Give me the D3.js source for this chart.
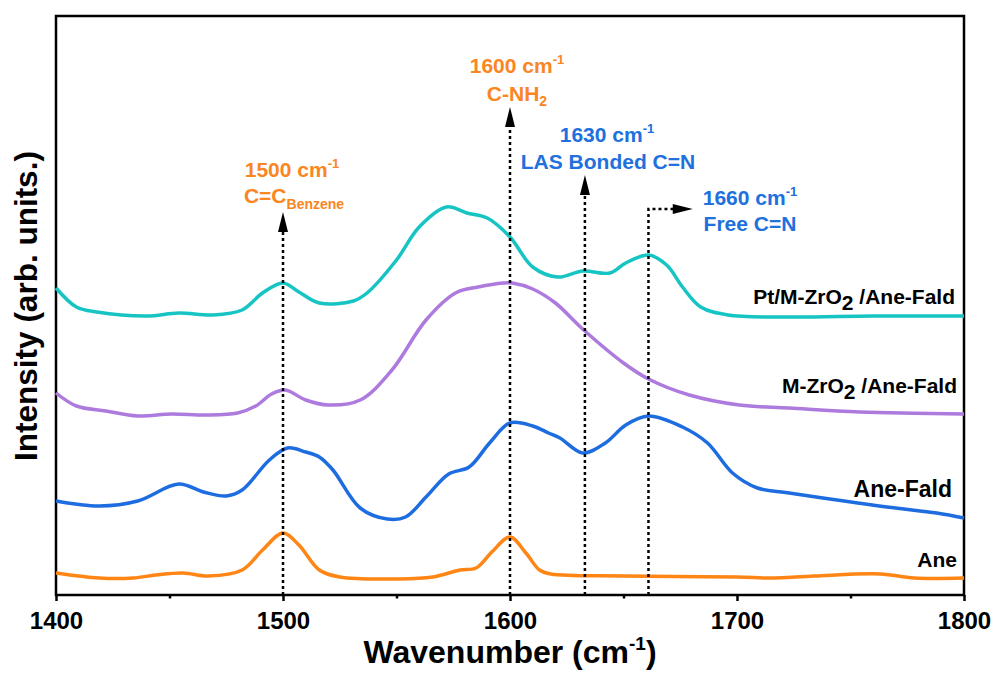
<!DOCTYPE html>
<html>
<head>
<meta charset="utf-8">
<script src="https://cdn.jsdelivr.net/npm/d3@7"></script>
<style>
  body { margin: 0; background: #fff; }
  svg { display: block; font-family: "Liberation Sans", Arial, sans-serif; font-weight: bold; }
</style>
</head>
<body>
<svg id="chart" width="998" height="675"></svg>
<script>
// wavenumber ticks
var majorTicks = [1400, 1500, 1600, 1700, 1800];
var minorTicks = [1450, 1550, 1650, 1750];

// Ane
var wnAne = [1400, 1419, 1434, 1444, 1456, 1467, 1482, 1491, 1500, 1507, 1516, 1525, 1551, 1566, 1578, 1585, 1592, 1600, 1607, 1613, 1618, 1650, 1700, 1715, 1734, 1763, 1778, 1800];
var ane   = [22, 17, 17, 20, 22, 19, 25, 45, 62, 50, 25, 18, 16, 18, 25, 27, 43, 58, 42, 25, 21, 19, 18, 17, 19, 21, 17, 17];

// Ane-Fald
var wnAneFald = [1400, 1419, 1436, 1454, 1465, 1475, 1482, 1494, 1502, 1510, 1516, 1522, 1534, 1546, 1554, 1563, 1573, 1582, 1591, 1600, 1610, 1617, 1622, 1632, 1642, 1651, 1661, 1676, 1687, 1698, 1709, 1723, 1766, 1788, 1800];
var aneFald   = [94, 89, 94, 111, 103, 99, 105, 135, 147, 143, 138, 125, 87, 76, 78, 98, 121, 128, 152, 172, 169, 162, 157, 142, 152, 170, 179, 168, 152, 122, 107, 102, 88, 82, 77];

// M-ZrO2 /Ane-Fald
var wnMZr = [1400, 1409, 1422, 1436, 1451, 1466, 1480, 1488, 1495, 1501, 1510, 1520, 1534, 1548, 1563, 1576, 1586, 1597, 1601, 1610, 1620, 1632, 1650, 1661, 1679, 1701, 1723, 1754, 1800];
var mZr   = [202, 189, 184, 179, 181, 180, 182, 189, 201, 205, 195, 190, 195, 225, 275, 302, 308, 312, 312, 306, 292, 266, 232, 216, 200, 190, 187, 183, 181];

// Pt/M-ZrO2 /Ane-Fald
var wnPtMZr = [1400, 1409, 1418, 1440, 1454, 1469, 1482, 1491, 1500, 1507, 1516, 1531, 1537, 1550, 1560, 1572, 1581, 1590, 1600, 1610, 1621, 1632, 1644, 1651, 1661, 1669, 1676, 1684, 1696, 1723, 1760, 1800];
var ptMZr   = [307, 288, 283, 279, 282, 280, 285, 302, 312, 303, 292, 294, 302, 335, 368, 388, 382, 377, 358, 328, 318, 324, 322, 332, 340, 330, 308, 288, 280, 278, 279, 279];

// marked bands: position and arrow tip height
var bandWn  = [1500, 1600, 1633, 1661];
var bandTip = [383, 488, 420, 386];
var bendEnd = 1680.5;

var svg = d3.select("#chart");
var margin = { top: 16, right: 34, bottom: 80, left: 56 };
var W = +svg.attr("width"), H = +svg.attr("height");
var x = d3.scaleLinear().domain([1400, 1800]).range([margin.left, W - margin.right]);
var y = d3.scaleLinear().domain([0, 579]).range([H - margin.bottom, margin.top]);

var orangeTxt = "#fa8623", blueTxt = "#2070dd";

// frame
svg.append("rect")
  .attr("x", x(1400)).attr("y", y(579))
  .attr("width", x(1800) - x(1400)).attr("height", y(0) - y(579))
  .attr("fill", "none").attr("stroke", "#000").attr("stroke-width", 2.5);

// axes
var ax = svg.append("g").attr("transform", "translate(0," + y(0) + ")")
  .call(d3.axisBottom(x).tickValues(majorTicks).tickSize(6).tickSizeOuter(0).tickFormat(d3.format("d")));
ax.select(".domain").remove();
ax.selectAll("line").attr("stroke-width", 2.5);
ax.selectAll("text").attr("y", 17).attr("font-size", 24).attr("font-family", "Liberation Sans, Arial, sans-serif").attr("font-weight", "bold").attr("fill", "#000");

var axm = svg.append("g").attr("transform", "translate(0," + y(0) + ")")
  .call(d3.axisBottom(x).tickValues(minorTicks).tickSize(3.5).tickSizeOuter(0).tickFormat(""));
axm.select(".domain").remove();
axm.selectAll("line").attr("stroke-width", 2.5);

// text with sub/superscripts
function rich(x0, y0, parts, anchor, color, rot) {
  var t = svg.append("text").attr("text-anchor", anchor).attr("fill", color);
  if (rot) t.attr("transform", "translate(" + x0 + "," + y0 + ") rotate(-90)");
  else t.attr("x", x0).attr("y", y0);
  var shift = 0;
  parts.forEach(function (p) {
    var off = p.dy || 0;
    t.append("tspan").attr("dy", off - shift).attr("font-size", p.size).text(p.t);
    shift = off;
  });
  return t;
}

rich(510, 663, [{ t: "Wavenumber (cm", size: 32 }, { t: "-1", size: 19, dy: -13 }, { t: ")", size: 32 }], "middle", "#000");
rich(37, 306, [{ t: "Intensity (arb. units.)", size: 31.5 }], "middle", "#000", true);

// spectra
var line = d3.line().curve(d3.curveCatmullRom.alpha(0.5));
var series = [
  { wn: wnAne, v: ane, color: "#ff8515" },
  { wn: wnAneFald, v: aneFald, color: "#1d6de0" },
  { wn: wnMZr, v: mZr, color: "#ad7ade" },
  { wn: wnPtMZr, v: ptMZr, color: "#17c4c4" }
];
svg.append("g").selectAll("path").data(series).enter().append("path")
  .attr("fill", "none")
  .attr("stroke", function (d) { return d.color; })
  .attr("stroke-width", 3.5)
  .attr("stroke-linejoin", "round")
  .attr("d", function (d) { return line(d.wn.map(function (w, i) { return [x(w), y(d.v[i])]; })); });

// dotted band markers
var ann = svg.append("g");
bandWn.forEach(function (w, i) {
  var px = x(w), tip = y(bandTip[i]);
  if (i < 3) {
    ann.append("line").attr("x1", px).attr("x2", px).attr("y1", y(0)).attr("y2", tip + 18)
      .attr("stroke", "#000").attr("stroke-width", 2.5).attr("stroke-dasharray", "3,3");
    ann.append("path").attr("d", "M" + px + "," + tip + "L" + (px - 5) + "," + (tip + 20) + "L" + (px + 5) + "," + (tip + 20) + "Z");
  } else {
    var ex = x(bendEnd);
    ann.append("path").attr("d", "M" + px + "," + y(0) + "V" + tip + "H" + (ex - 18))
      .attr("fill", "none").attr("stroke", "#000").attr("stroke-width", 2.5).attr("stroke-dasharray", "3,3");
    ann.append("path").attr("d", "M" + ex + "," + tip + "L" + (ex - 20) + "," + (tip - 5) + "L" + (ex - 20) + "," + (tip + 5) + "Z");
  }
});

// band labels
rich(292, 177, [{ t: "1500 cm", size: 21 }, { t: "-1", size: 13, dy: -9 }], "middle", orangeTxt);
rich(294, 203, [{ t: "C=C", size: 21 }, { t: "Benzene", size: 14, dy: 6 }], "middle", orangeTxt);
rich(517, 73, [{ t: "1600 cm", size: 21 }, { t: "-1", size: 13, dy: -9 }], "middle", orangeTxt);
rich(517, 101, [{ t: "C-NH", size: 21 }, { t: "2", size: 14, dy: 5 }], "middle", orangeTxt);
rich(607, 142, [{ t: "1630 cm", size: 21 }, { t: "-1", size: 13, dy: -9 }], "middle", blueTxt);
rich(608, 169, [{ t: "LAS Bonded C=N", size: 21 }], "middle", blueTxt);
rich(750, 205, [{ t: "1660 cm", size: 21 }, { t: "-1", size: 13, dy: -9 }], "middle", blueTxt);
rich(750, 231, [{ t: "Free C=N", size: 21 }], "middle", blueTxt);

// series labels
rich(955, 304, [{ t: "Pt/M-ZrO", size: 21 }, { t: "2", size: 21, dy: 6 }, { t: " /Ane-Fald", size: 21 }], "end", "#000");
rich(957, 393, [{ t: "M-ZrO", size: 21 }, { t: "2", size: 21, dy: 6 }, { t: " /Ane-Fald", size: 21 }], "end", "#000");
rich(952, 497, [{ t: "Ane-Fald", size: 23 }], "end", "#000");
rich(957, 567, [{ t: "Ane", size: 21 }], "end", "#000");
</script>
</body>
</html>
